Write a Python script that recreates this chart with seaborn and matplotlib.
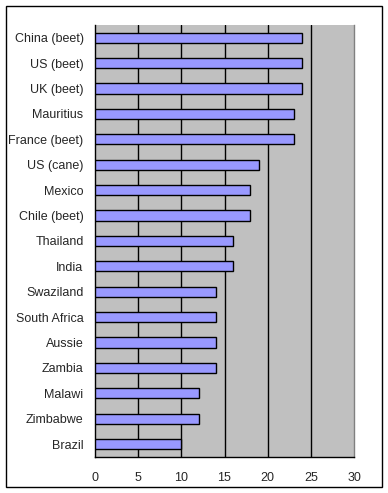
import matplotlib
matplotlib.use("Agg")
import matplotlib.pyplot as plt
import seaborn as sns
import pandas as pd
import numpy as np
from matplotlib.patches import Rectangle

countries = ["China (beet)", "US (beet)", "UK (beet)", "Mauritius", "France (beet)",
             "US (cane)", "Mexico", "Chile (beet)", "Thailand", "India", "Swaziland",
             "South Africa", "Aussie", "Zambia", "Malawi", "Zimbabwe", "Brazil"]
values = [24, 24, 24, 23, 23, 19, 18, 18, 16, 16, 14, 14, 14, 14, 12, 12, 10]
x_ticks = [0, 5, 10, 15, 20, 25, 30]

df = pd.DataFrame({"country": countries, "value": values})

sns.set_style("white")
plt.rcParams["font.family"] = ["Liberation Sans", "DejaVu Sans"]

fig = plt.figure(figsize=(3.88, 4.93), dpi=100)
ax = fig.add_axes([94.7 / 388, 1 - 456.7 / 493, (354.3 - 94.7) / 388, (456.7 - 25) / 493])
ax.set_facecolor("#C0C0C0")

sns.barplot(data=df, y="country", x="value", orient="h", ax=ax, width=0.4,
            color="#9999FF", saturation=1, edgecolor="black", linewidth=1, zorder=3)

ax.set_xlim(0, 30)
ax.set_ylim(len(countries) - 0.5, -0.5)
ax.set_xticks(x_ticks)
ax.set_xticklabels([str(t) for t in x_ticks], fontsize=9)
for t in x_ticks[1:-1]:
    ax.axvline(t, color="black", lw=1, zorder=1)

ax.set_yticks(range(len(countries)))
ax.set_yticklabels(countries, fontsize=9)
ax.set_yticks(np.arange(-0.5, len(countries)), minor=True)
ax.tick_params(axis="y", which="major", length=0, pad=8)
ax.tick_params(axis="y", which="minor", length=4, width=1, direction="out", color="black")
ax.tick_params(axis="x", which="major", length=5, width=1, direction="out", color="black", pad=6)

ax.set_xlabel("")
ax.set_ylabel("")
for side in ["left", "bottom"]:
    ax.spines[side].set_color("black")
    ax.spines[side].set_linewidth(1)
ax.spines["top"].set_visible(False)
ax.spines["right"].set_color("#808080")
ax.spines["right"].set_linewidth(1)

fig.patches.append(Rectangle((5.5 / 388, 1 - 486.5 / 493), (381.5 - 5.5) / 388,
                             (486.5 - 5.5) / 493, transform=fig.transFigure,
                             fill=False, edgecolor="black", linewidth=1))

fig.savefig("out.png", dpi=100, facecolor="white")
